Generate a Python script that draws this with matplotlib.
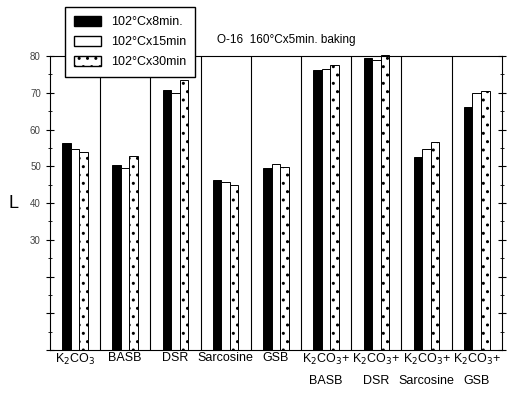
import numpy as np
import matplotlib.pyplot as plt
from matplotlib.patches import Patch

categories = ["K$_2$CO$_3$", "BASB", "DSR", "Sarcosine", "GSB",
              "K$_2$CO$_3$+\nBASB", "K$_2$CO$_3$+\nDSR",
              "K$_2$CO$_3$+\nSarcosine", "K$_2$CO$_3$+\nGSB"]
series_names = ["102°Cx8min.", "102°Cx15min", "102°Cx30min"]
l_8min = [56.2, 50.4, 70.8, 46.4, 49.4, 76.2, 79.4, 52.6, 66.2]
l_15min = [54.8, 49.6, 69.8, 45.7, 50.6, 76.4, 78.8, 54.6, 70.0]
l_30min = [53.8, 52.9, 73.4, 45.0, 49.7, 77.6, 80.3, 56.6, 70.4]
yticks = [0, 10, 20, 30, 40, 50, 60, 70, 80]
ytick_labels = ["", "", "", "30", "40", "50", "60", "70", "80"]

plt.rcParams['font.family'] = ['Liberation Sans', 'DejaVu Sans']
plt.rcParams['hatch.linewidth'] = 1.0

fig = plt.figure(figsize=(5.09, 3.97), dpi=100)
ax = fig.add_axes([0.098, 0.118, 0.888, 0.741])

x = np.arange(len(categories)) + 0.5
w = 0.17
styles = [dict(color="black", edgecolor="black"),
          dict(color="white", edgecolor="black"),
          dict(color="white", edgecolor="black", hatch="..")]
for i, (vals, st) in enumerate(zip([l_8min, l_15min, l_30min], styles)):
    ax.bar(x + (i - 1) * w, vals, w, linewidth=0.7, clip_on=False, **st)

for b in range(1, len(categories)):
    ax.axvline(b, color="black", lw=0.8)

ax.set_xlim(0, len(categories))
ax.set_ylim(0, 80)
ax.set_xticks(x)
ax.set_xticklabels(categories, fontsize=9, linespacing=1.9)
ax.tick_params(axis="x", length=0, pad=1)
ax.set_yticks(yticks)
ax.set_yticklabels(ytick_labels, fontsize=7, color="#444444")
ax.set_yticks(np.arange(5, 80, 5), minor=True)
ax.tick_params(axis="y", direction="inout", length=6, right=True, labelright=False)
ax.tick_params(axis="y", which="minor", direction="inout", length=3, right=True)
ax.set_ylabel("L", rotation=0, fontsize=13, labelpad=12, va="center")

for s in ax.spines.values():
    s.set_linewidth(0.8)

ax.text(0.37, 1.035, "O-16  160°Cx5min. baking", transform=ax.transAxes,
        fontsize=8.5, ha="left", va="bottom")

handles = [Patch(facecolor="black", edgecolor="black"),
           Patch(facecolor="white", edgecolor="black"),
           Patch(facecolor="white", edgecolor="black", hatch="..")]
fig.legend(handles, series_names, loc="upper left", bbox_to_anchor=(0.128, 0.982),
           fontsize=9, frameon=True, fancybox=False, edgecolor="black",
           framealpha=1, handlelength=2.2, handleheight=0.9, borderpad=0.7,
           labelspacing=0.6, borderaxespad=0)

fig.savefig("out.png", dpi=100)
